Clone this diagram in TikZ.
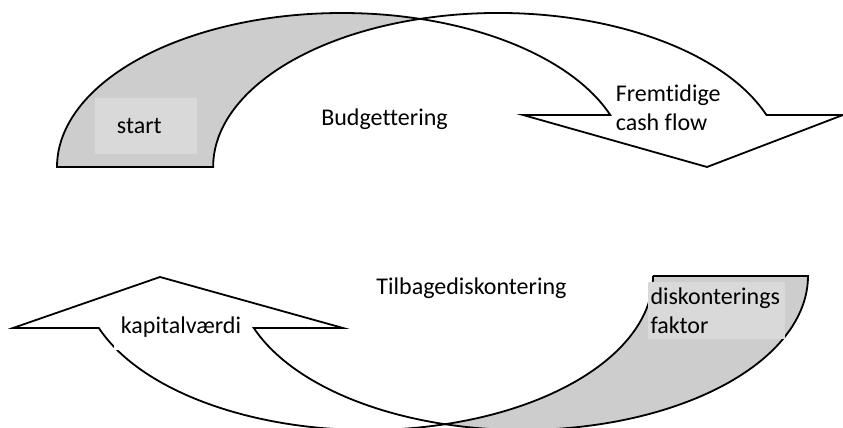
\documentclass[tikz,border=0pt]{standalone}
\usepackage{fontspec}
\setmainfont{Carlito}[Ligatures=NoCommon]
\usepackage{xcolor}
\usepackage{tikz}
\definecolor{backgray}{RGB}{205,205,205}
\definecolor{boxgray}{RGB}{217,217,217}

\begin{document}
\begin{tikzpicture}[x=0.5pt,y=0.5pt,line width=0.9pt,line join=miter,
    face/.style={draw=black,fill=white},
    back/.style={draw=black,fill=backgray},
    every node/.style={font=\fontsize{12}{14.5}\selectfont},
    lbl/.style={inner sep=0pt},
    box/.style={fill=boxgray,inner xsep=1.25pt,inner ysep=0pt,align=left}]
    \useasboundingbox (0,0) rectangle (843,428);

    \path[back] (57,261) arc[start angle=180,end angle=74.1,x radius=285,y radius=154]
        arc[start angle=105.9,end angle=180,x radius=285,y radius=154] -- cycle;
    \path[face] (610.3,313) arc[start angle=19.73,end angle=74.1,x radius=285,y radius=154]
        arc[start angle=105.9,end angle=19.73,x radius=285,y radius=154]
        -- (843,313) -- (707,261) -- (523,313) -- cycle;

    \path[back] (653,152) -- (808,152)
        arc[start angle=0,end angle=-105.75,x radius=285.5,y radius=154]
        arc[start angle=-74.25,end angle=0,x radius=285.5,y radius=154] -- cycle;
    \path[face] (98.8,100) -- (13,100) -- (160,151) -- (343,100) -- (253.8,100)
        arc[start angle=-160.27,end angle=-105.75,x radius=285.5,y radius=154]
        arc[start angle=-74.25,end angle=-160.27,x radius=285.5,y radius=154] -- cycle;

    \node[box,inner xsep=11pt,text width=29pt,minimum height=28pt] (start) at (146,302) {start};
    \node[lbl] (budget) at (384.5,308.5) {Budgettering};
    \node[lbl,anchor=west,align=left] (cashflow) at (615,320) {Fremtidige\\cash flow};
    \node[lbl] (tilbage) at (471.5,139.5) {Tilbagediskontering};
    \node[fill=white,inner sep=0pt,minimum width=67.5pt,minimum height=23pt] (kapital) at (181,100.5) {kapitalværdi};
    \node[box,text width=66pt,minimum height=28.5pt] (faktor) at (716.5,117.5) {diskonterings\\faktor};
\end{tikzpicture}
\end{document}
